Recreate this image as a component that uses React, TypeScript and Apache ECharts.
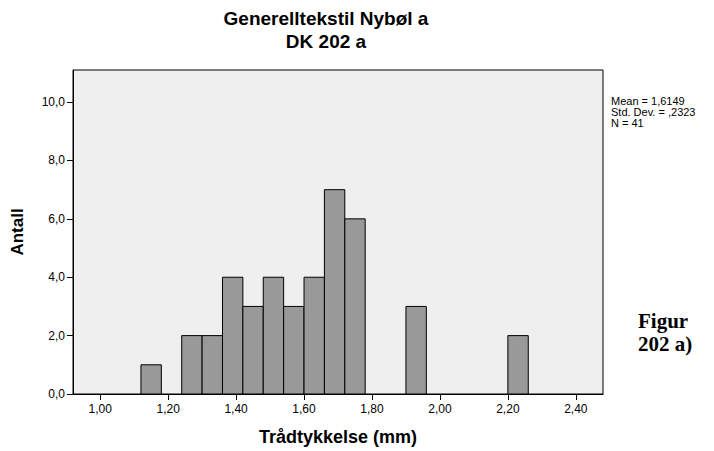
import React, { useEffect, useRef } from "react";
import * as echarts from "echarts";

const binLow = [1.12, 1.24, 1.30, 1.36, 1.42, 1.48, 1.54, 1.60, 1.66, 1.72, 1.90, 2.20];
const binHigh = [1.18, 1.30, 1.36, 1.42, 1.48, 1.54, 1.60, 1.66, 1.72, 1.78, 1.96, 2.26];
const counts = [1, 2, 2, 4, 3, 4, 3, 4, 7, 6, 3, 2];
const xTicks = [1.0, 1.2, 1.4, 1.6, 1.8, 2.0, 2.2, 2.4];
const yTicks = [0, 2, 4, 6, 8, 10];
const statsLines = ["Mean = 1,6149", "Std. Dev. = ,2323", "N = 41"];
const titleLines = ["Generelltekstil Nybøl a", "DK 202 a"];
const figLines = ["Figur", "202 a)"];

const FONT = "'Liberation Sans', Arial, Helvetica, sans-serif";

export default function App() {
  const ref = useRef<HTMLDivElement>(null);
  useEffect(() => {
    if (!ref.current) return;
    const chart = echarts.init(ref.current, null, { renderer: "svg" });
    const data = binLow.map((lo, i) => [lo, binHigh[i], counts[i]]);
    chart.setOption({
      animation: false,
      backgroundColor: "#ffffff",
      title: {
        text: titleLines.join("\n"),
        left: 321,
        top: 2,
        textAlign: "center",
        textStyle: {
          fontFamily: FONT,
          fontWeight: "bold",
          fontSize: 19,
          lineHeight: 23,
          color: "#000",
        },
      },
      grid: {
        left: 73,
        top: 70,
        width: 530,
        height: 324.5,
        show: true,
        backgroundColor: "#efefef",
        borderColor: "#000",
        borderWidth: 1,
      },
      xAxis: {
        type: "value",
        min: 0.92,
        max: 2.48,
        name: "Trådtykkelse (mm)",
        nameLocation: "middle",
        nameGap: 34,
        nameTextStyle: { fontFamily: FONT, fontWeight: "bold", fontSize: 18, color: "#000" },
        axisLine: { show: true, lineStyle: { color: "#000", width: 1 } },
        axisTick: { show: true, customValues: xTicks, length: 6, lineStyle: { color: "#000" } },
        axisLabel: {
          customValues: xTicks,
          formatter: (v: number) => v.toFixed(2).replace(".", ","),
          fontFamily: FONT,
          fontSize: 12,
          color: "#000",
          margin: 9,
        },
        splitLine: { show: false },
      },
      yAxis: {
        type: "value",
        min: 0,
        max: 11.1,
        name: "Antall",
        nameLocation: "middle",
        nameGap: 47,
        nameTextStyle: { fontFamily: FONT, fontWeight: "bold", fontSize: 17, color: "#000" },
        axisLine: { show: true, lineStyle: { color: "#000", width: 1 } },
        axisTick: { show: true, customValues: yTicks, length: 6, lineStyle: { color: "#000" } },
        axisLabel: {
          customValues: yTicks,
          formatter: (v: number) => v.toFixed(1).replace(".", ","),
          fontFamily: FONT,
          fontSize: 12,
          color: "#000",
          margin: 8,
        },
        splitLine: { show: false },
      },
      series: [
        {
          type: "custom",
          data,
          encode: { x: [0, 1], y: 2 },
          renderItem: (params: any, api: any) => {
            const p0 = api.coord([api.value(0), 0]);
            const p1 = api.coord([api.value(1), api.value(2)]);
            return {
              type: "rect",
              shape: { x: p0[0], y: p1[1], width: p1[0] - p0[0], height: p0[1] - p1[1] },
              style: { fill: "#999999", stroke: "#000", lineWidth: 1 },
            };
          },
        },
      ],
      graphic: [
        {
          type: "text",
          left: 611,
          top: 95,
          style: {
            text: statsLines.join("\n"),
            font: `11px ${FONT}`,
            lineHeight: 11,
            fill: "#000",
          },
        },
        {
          type: "text",
          left: 638,
          top: 309,
          style: {
            text: figLines.join("\n"),
            font: `bold 21px 'Liberation Serif', 'Times New Roman', serif`,
            lineHeight: 23,
            fill: "#000",
          },
        },
      ],
    });
    return () => chart.dispose();
  }, []);
  return (
    <div
      ref={ref}
      style={{ position: "fixed", left: 0, top: 0, width: 714, height: 451 }}
    />
  );
}
